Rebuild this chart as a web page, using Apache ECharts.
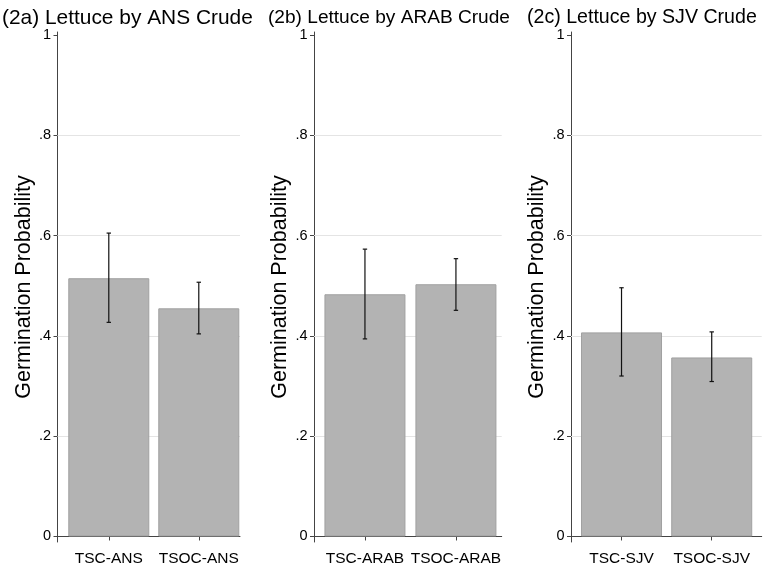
<!DOCTYPE html>
<html>
<head>
<meta charset="utf-8">
<script src="https://cdn.jsdelivr.net/npm/echarts@6/dist/echarts.min.js"></script>
<style>html,body{margin:0;padding:0;background:#fff}#c{width:766px;height:567px}</style>
</head>
<body>
<div id="c"></div>
<script>
// ---- data ----
var titles = ['(2a) Lettuce by ANS Crude', '(2b) Lettuce by ARAB Crude', '(2c) Lettuce by SJV Crude'];
var categoriesA = ['TSC-ANS', 'TSOC-ANS'];
var categoriesB = ['TSC-ARAB', 'TSOC-ARAB'];
var categoriesC = ['TSC-SJV', 'TSOC-SJV'];
var meanA = [0.515, 0.455];
var lowA  = [0.427, 0.404];
var highA = [0.605, 0.507];
var meanB = [0.483, 0.503];
var lowB  = [0.394, 0.451];
var highB = [0.573, 0.554];
var meanC = [0.407, 0.357];
var lowC  = [0.320, 0.309];
var highC = [0.496, 0.408];
var yTicks = [0, 0.2, 0.4, 0.6, 0.8, 1];
var yGrid = [0.2, 0.4, 0.6, 0.8];
var yTitle = 'Germination Probability';

// ---- layout ----
var FONT = "'Liberation Sans', Arial, Helvetica, sans-serif";
var panels = [
  {cats: categoriesA, mean: meanA, low: lowA, high: highA, left: 57.5, width: 182.5, xmin: 0.43, xmax: 2.458, tleft: 2, tsize: 20.9},
  {cats: categoriesB, mean: meanB, low: lowB, high: highB, left: 314, width: 187.7, xmin: 0.44, xmax: 2.503, tleft: 268, tsize: 19.1},
  {cats: categoriesC, mean: meanC, low: lowC, high: highC, left: 571, width: 190.7, xmin: 0.44, xmax: 2.554, tleft: 527, tsize: 19.6}
];
function fmtY(v) {
  if (Math.abs(v) < 1e-9) return '0';
  if (Math.abs(v - 1) < 1e-9) return '1';
  return String(Math.round(v * 10) / 10).replace('0.', '.');
}
var option = {
  animation: false,
  backgroundColor: '#fff',
  title: [], grid: [], xAxis: [], yAxis: [], series: []
};
panels.forEach(function (p, i) {
  option.title.push({
    text: titles[i], left: p.tleft, top: 8, padding: 0,
    textStyle: {fontFamily: FONT, fontSize: p.tsize, fontWeight: 'normal', color: '#000'}
  });
  option.grid.push({left: p.left, top: 32, width: p.width, height: 510, containLabel: false});
  option.xAxis.push({
    type: 'value', gridIndex: i, min: p.xmin, max: p.xmax,
    axisLine: {show: true, lineStyle: {color: '#444', width: 1}},
    axisTick: {show: true, length: 4, customValues: [1, 2], lineStyle: {color: '#444'}},
    axisLabel: {show: true, customValues: [1, 2], margin: 9, color: '#000', fontFamily: FONT, fontSize: 15.5,
      formatter: (function (cats) { return function (v) { return cats[Math.round(v) - 1]; }; })(p.cats)},
    splitLine: {show: false}
  });
  option.yAxis.push({
    type: 'value', gridIndex: i, min: -0.011, max: 1.006,
    name: yTitle, nameLocation: 'middle', nameRotate: 90, nameGap: 19,
    nameTextStyle: {fontFamily: FONT, fontSize: 21.5, color: '#000'},
    axisLine: {show: true, lineStyle: {color: '#444', width: 1}},
    axisTick: {show: true, length: 4, customValues: yTicks, lineStyle: {color: '#444'}},
    axisLabel: {show: true, customValues: yTicks, margin: 6.5, color: '#000', fontFamily: FONT, fontSize: 14.5, formatter: fmtY},
    splitLine: {show: false}
  });
  var barData = p.mean.map(function (m, k) { return [k + 1, m]; });
  var errData = p.low.map(function (lo, k) { return [k + 1, lo, p.high[k]]; });
  option.series.push({
    type: 'bar', xAxisIndex: i, yAxisIndex: i, data: barData, barWidth: 81, z: 2,
    itemStyle: {color: '#b3b3b3', borderColor: '#a0a0a0', borderWidth: 1},
    markLine: {
      silent: true, symbol: 'none', z: 1, animation: false,
      label: {show: false},
      lineStyle: {color: '#e4e4e4', width: 1, type: 'solid'},
      data: yGrid.map(function (g) { return {yAxis: g}; })
    }
  });
  option.series.push({
    type: 'custom', xAxisIndex: i, yAxisIndex: i, data: errData, z: 3,
    renderItem: function (params, api) {
      var x = api.value(0);
      var top = api.coord([x, api.value(2)]);
      var bot = api.coord([x, api.value(1)]);
      var cw = 2.2;
      var st = {stroke: '#111', lineWidth: 1.2};
      return {type: 'group', children: [
        {type: 'line', shape: {x1: top[0], y1: top[1], x2: bot[0], y2: bot[1]}, style: st},
        {type: 'line', shape: {x1: top[0] - cw, y1: top[1], x2: top[0] + cw, y2: top[1]}, style: st},
        {type: 'line', shape: {x1: bot[0] - cw, y1: bot[1], x2: bot[0] + cw, y2: bot[1]}, style: st}
      ]};
    }
  });
});
var chart = echarts.init(document.getElementById('c'), null, {renderer: 'canvas'});
chart.setOption(option);
</script>
</body>
</html>
